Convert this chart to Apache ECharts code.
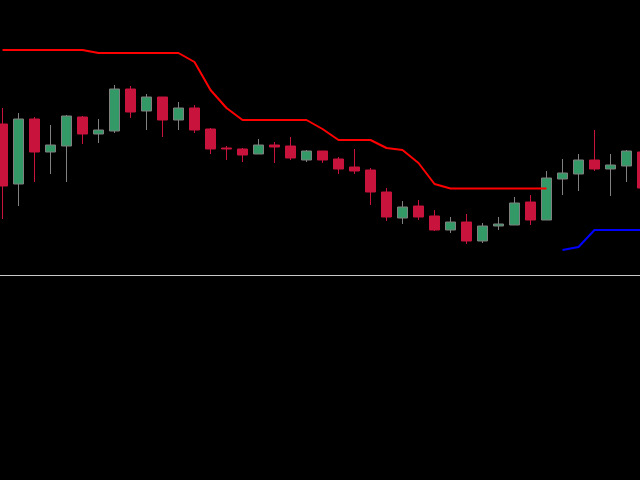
<!DOCTYPE html>
<html>
<head>
<meta charset="utf-8">
<style>html,body{margin:0;padding:0;background:#000;}#c{width:640px;height:480px;}</style>
<script src="https://cdn.jsdelivr.net/npm/echarts@6/dist/echarts.min.js"></script>
</head>
<body>
<div id="c"></div>
<script>
// bar indices (0 = first bar on screen)
var barIndex = [];
for (var k = 0; k < 41; k++) barIndex.push(k);

// OHLC values
var opens  = [151, 91,156,123,129,158,141,144,186,164,178,155,167,146,127,126,121,130,129,115,124,116,108,105, 83, 57, 69, 59, 45, 53, 34, 49, 50, 73, 55, 96,101,115,106,109,123];
var closes = [ 89,156,123,130,159,141,145,186,163,178,155,167,145,126,126,120,130,128,117,124,115,106,104, 83, 58, 68, 58, 45, 53, 34, 49, 51, 72, 55, 97,102,115,106,110,124, 87];
var lows   = [ 56, 69, 93,101, 93,131,132,142,157,145,138,145,142,121,115,113,121,112,115,113,112,101,101, 70, 54, 51, 55, 44, 42, 31, 32, 45, 50, 50, 55, 80, 84,104, 79, 93, 85];
var highs  = [167,162,158,150,160,159,156,190,189,181,178,173,170,147,129,127,136,133,138,125,124,118,126,107, 87, 74, 75, 65, 58, 61, 52, 58, 78, 80,104,116,121,145,121,125,125];

// upper stop line (red) and lower stop line (blue)
var upperStop = [225,225,225,225,225,225,222,222,222,222,222,222,213,185,167,155,155,155,155,155,146,135,135,135,127,125,112, 91,86.5,86.5,86.5,86.5,86.5,86.5,86.5,null,null,null,null,null,null];
var lowerStop = [null,null,null,null,null,null,null,null,null,null,null,null,null,null,null,null,null,null,null,null,null,null,null,null,null,null,null,null,null,null,null,null,null,null,null,25,28,45,45,45,45];

var ohlc = [], upperPts = [], lowerPts = [];
for (var i = 0; i < barIndex.length; i++) {
  ohlc.push([barIndex[i], opens[i], closes[i], lows[i], highs[i]]);
  if (upperStop[i] != null) upperPts.push([barIndex[i], upperStop[i]]);
  if (lowerStop[i] != null) lowerPts.push([barIndex[i], lowerStop[i]]);
}

var chart = echarts.init(document.getElementById('c'));
chart.setOption({
  backgroundColor: '#000000',
  animation: false,
  grid: { left: 0, right: 0, top: 0, height: 275, outerBoundsMode: 'none', containLabel: false },
  xAxis: {
    type: 'value',
    min: -0.15625,
    max: 39.84375,
    axisLine: { show: true, onZero: false, lineStyle: { color: '#c8c8c8', width: 1 } },
    axisTick: { show: false },
    axisLabel: { show: false },
    splitLine: { show: false }
  },
  yAxis: {
    type: 'value',
    min: 0,
    max: 275,
    show: false,
    splitLine: { show: false }
  },
  series: [
    {
      type: 'candlestick',
      data: ohlc,
      encode: { x: 0, y: [1, 2, 3, 4] },
      barWidth: 10,
      clip: false,
      itemStyle: {
        color: '#339966',
        color0: '#c8143c',
        borderColor: '#808080',
        borderColor0: '#c8143c',
        borderWidth: 1
      }
    },
    {
      type: 'line',
      data: upperPts,
      showSymbol: false,
      lineStyle: { color: '#ff0000', width: 2 },
      itemStyle: { color: '#ff0000' },
      clip: false,
      z: 3
    },
    {
      type: 'line',
      data: lowerPts,
      showSymbol: false,
      lineStyle: { color: '#0000ff', width: 2 },
      itemStyle: { color: '#0000ff' },
      clip: false,
      z: 3
    }
  ]
});
</script>
</body>
</html>
